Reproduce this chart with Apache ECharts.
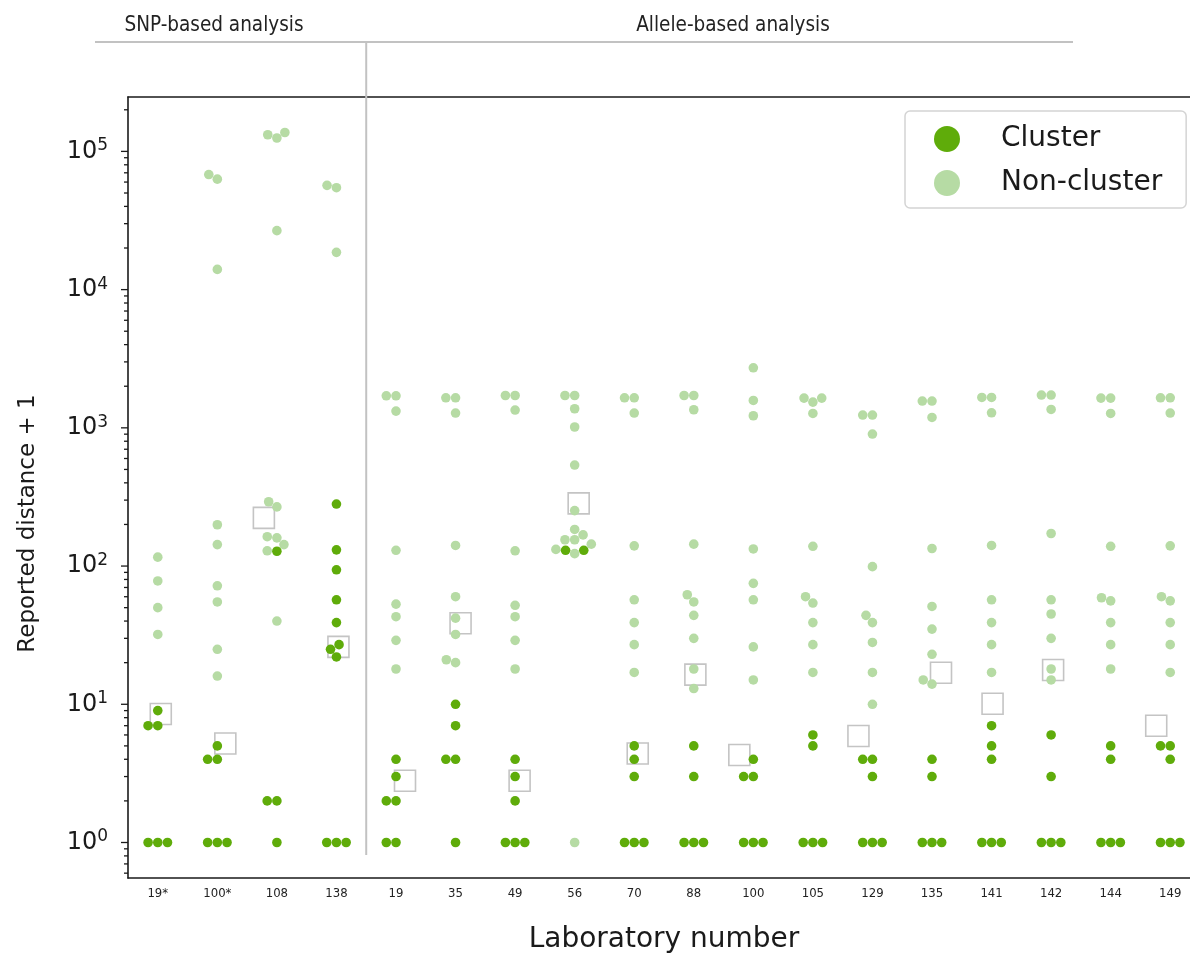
<!DOCTYPE html>
<html>
<head>
<meta charset="utf-8">
<script src="https://cdn.jsdelivr.net/npm/echarts@6/dist/echarts.min.js"></script>
<style>
html,body{margin:0;padding:0;background:#fff;}
#chart{width:1190px;height:954px;}
</style>
</head>
<body>
<div id="chart"></div>
<script>
// ---------------- data ----------------
const labNumbers = ['19*','100*','108','138','19','35','49','56','70','88','100','105','129','135','141','142','144','149'];

// reported distance + 1, per laboratory, for cluster pairs
const clusterDistances = [
  [9,7,7,1,1,1],
  [5,4,4,1,1,1],
  [128,2,2,1],
  [281,131,94,57,39,27,25,22,1,1,1],
  [4,3,2,2,1,1],
  [10,7,4,4,1],
  [4,3,2,1,1,1],
  [130,130],
  [5,4,3,1,1,1],
  [5,3,1,1,1],
  [4,3,3,1,1,1],
  [6,5,1,1,1],
  [4,4,3,1,1,1],
  [4,3,1,1,1],
  [7,5,4,1,1,1],
  [6,3,1,1,1],
  [5,4,1,1,1],
  [5,5,4,1,1,1]
];

// reported distance + 1, per laboratory, for non-cluster pairs
const nonClusterDistances = [
  [116,78,50,32],
  [68000,63000,14000,199,143,72,55,25,16],
  [137000,132000,125000,26700,292,268,163,160,143,129,40],
  [56800,54600,18600],
  [1706,1706,1322,130,53,43,29,18],
  [1650,1650,1279,141,60,42,32,21,20],
  [1714,1714,1345,129,52,43,29,18],
  [1714,1714,1374,1014,538,252,184,168,155,155,144,132,123,1],
  [1650,1650,1279,140,57,39,27,17],
  [1714,1714,1352,144,62,55,44,30,18,13],
  [2720,1578,1223,133,75,57,26,15],
  [1641,1641,1536,1271,139,60,54,39,27,17],
  [1237,1237,902,99,44,39,28,17,10],
  [1562,1562,1189,134,51,35,23,15,14],
  [1659,1659,1285,141,57,39,27,17],
  [1726,1726,1358,172,57,45,30,18,15],
  [1641,1641,1271,139,59,56,39,27,18],
  [1650,1650,1279,140,60,56,39,27,17]
];

// square markers (one per laboratory, null = none)
const thresholdDistances = [8.5,5.2,223,26,2.8,38.6,2.8,284,4.4,16.4,4.3,null,5.9,16.9,10.1,17.7,null,7.0];

const yTickExponents = [0,1,2,3,4,5];
const groupLabels = ['SNP-based analysis','Allele-based analysis'];

// ---------------- layout / style ----------------
const squareJitterPx = [3,8,-13,2,9,5,4.5,4,3.5,1.6,-14,0,-14,9,1,2,0,-14];
const COL_CLUSTER = '#5fac0a';
const COL_NON = '#b6dba4';
const DOT = 9.6;
const GAP = 9.7;
const AX = '#1a1a1a';

// axis extent like matplotlib autoscale (5% margin in log space)
const allVals = clusterDistances.flat().concat(nonClusterDistances.flat());
const lo = Math.log10(Math.min.apply(null, allVals));
const hi = Math.log10(Math.max.apply(null, allVals));
const mrg = 0.05 * (hi - lo);
const yMin = Math.pow(10, lo - mrg);
const yMax = Math.pow(10, hi + mrg);

const majorTicks = yTickExponents.map(e => Math.pow(10, e));
const minorTicks = [];
for (let e = -1; e <= 5; e++) {
  for (let k = 2; k <= 9; k++) {
    const v = k * Math.pow(10, e);
    if (v > yMin && v < yMax) minorTicks.push(v);
  }
}

const chart = echarts.init(document.getElementById('chart'), null, {renderer: 'canvas'});

const baseOption = {
  animation: false,
  backgroundColor: '#fff',
  grid: {left: 128, top: 97, width: 1072, height: 781, containLabel: false, outerBoundsMode: 'none'},
  legend: {
    orient: 'vertical', left: 905, top: 111,
    data: ['Cluster', 'Non-cluster'],
    icon: 'circle', itemWidth: 26, itemHeight: 26, itemGap: 16,
    padding: [14, 24, 11, 29],
    borderColor: '#d4d4d4', borderWidth: 1.5, borderRadius: 5,
    backgroundColor: 'rgba(255,255,255,0.85)',
    selectedMode: false,
    textStyle: {fontSize: 28, color: AX, fontFamily: 'DejaVu Sans', padding: [0, 0, 0, 36]}
  },
  xAxis: [
    {
      type: 'category', data: labNumbers, position: 'bottom', boundaryGap: true,
      axisLine: {lineStyle: {color: AX, width: 1.6}},
      axisTick: {alignWithLabel: true, length: 7, lineStyle: {color: AX, width: 1.4}},
      axisLabel: {interval: 0, fontSize: 13, color: '#222', margin: 9, fontFamily: 'DejaVu Sans Condensed, DejaVu Sans'},
      splitLine: {show: false},
      name: 'Laboratory number', nameLocation: 'middle', nameGap: 48,
      nameTextStyle: {fontSize: 28, color: AX, fontFamily: 'DejaVu Sans'}
    },
    {
      type: 'category', data: labNumbers, position: 'top', boundaryGap: true,
      axisLine: {lineStyle: {color: AX, width: 1.6}},
      axisTick: {alignWithLabel: true, length: 6, lineStyle: {color: AX, width: 1.4}},
      axisLabel: {show: false},
      splitLine: {show: false}
    }
  ],
  yAxis: {
    type: 'log', logBase: 10, min: yMin, max: yMax,
    axisLine: {show: true, lineStyle: {color: AX, width: 1.6}},
    axisTick: {show: false},
    minorTick: {show: false},
    splitLine: {show: false},
    axisLabel: {
      margin: 20,
      formatter: function (v) {
        const l = Math.log10(v);
        const r = Math.round(l);
        if (Math.abs(l - r) > 1e-6) return '';
        return '{b|10}{s|' + r + '}';
      },
      rich: {
        b: {fontSize: 24, color: AX, fontFamily: 'DejaVu Sans', lineHeight: 28},
        s: {fontSize: 17, color: AX, fontFamily: 'DejaVu Sans', lineHeight: 18, verticalAlign: 'top'}
      }
    },
    name: 'Reported distance + 1', nameLocation: 'middle', nameGap: 88, nameRotate: 90,
    nameTextStyle: {fontSize: 23, color: AX, fontFamily: 'DejaVu Sans', padding: [0, 72, 0, 0]}
  },
  series: [
    {name: 'Threshold', type: 'scatter', symbol: 'rect', symbolSize: 21, z: 2, silent: true,
     itemStyle: {color: '#ffffff', borderColor: '#c4c4c4', borderWidth: 1.6, opacity: 1}, data: []},
    {name: 'Non-cluster', type: 'scatter', symbol: 'circle', symbolSize: DOT, z: 3, silent: true,
     itemStyle: {color: COL_NON, opacity: 1}, data: []},
    {name: 'Cluster', type: 'scatter', symbol: 'circle', symbolSize: DOT, z: 4, silent: true,
     itemStyle: {color: COL_CLUSTER, opacity: 1}, data: []},
    {name: 'ticks', type: 'custom', coordinateSystem: 'cartesian2d', silent: true, clip: false, z: 10,
     data: majorTicks.map(v => [0, v, 7]).concat(minorTicks.map(v => [0, v, 4])),
     renderItem: function (params, api) {
       const y = api.coord([0, api.value(1)])[1];
       const x0 = params.coordSys.x;
       const len = api.value(2);
       return {type: 'line', shape: {x1: x0 - len, y1: y, x2: x0, y2: y},
               style: {stroke: AX, lineWidth: 1.3}};
     }}
  ]
};
chart.setOption(baseOption);

// ---------------- swarm layout (pixel space, like seaborn) ----------------
function swarm(ys, d) {
  const idx = ys.map((y, i) => i).sort((a, b) => (ys[b] - ys[a]) || (a - b));
  const placed = [];
  const off = new Array(ys.length).fill(0);
  idx.forEach(i => {
    const y = ys[i];
    const near = placed.filter(p => Math.abs(p.y - y) < d);
    const cands = [0];
    near.forEach(p => {
      const dx = Math.sqrt(d * d - (p.y - y) * (p.y - y));
      cands.push(p.x - dx, p.x + dx);
    });
    cands.sort((a, b) => (Math.round(Math.abs(a) * 1000) - Math.round(Math.abs(b) * 1000)) || (a - b));
    let chosen = cands.find(c => near.every(p => (p.x - c) * (p.x - c) + (p.y - y) * (p.y - y) >= d * d - 1e-3));
    if (chosen === undefined) chosen = 0;
    placed.push({x: chosen, y: y});
    off[i] = chosen;
  });
  return off;
}

const clusterData = [];
const nonData = [];
labNumbers.forEach((lab, i) => {
  const pts = [];
  clusterDistances[i].forEach(v => pts.push({v: v, c: true}));
  nonClusterDistances[i].forEach(v => pts.push({v: v, c: false}));
  const ys = pts.map(p => chart.convertToPixel({yAxisIndex: 0}, p.v));
  const off = swarm(ys, GAP);
  pts.forEach((p, k) => {
    const item = {value: [i, p.v], symbolOffset: [off[k], 0]};
    (p.c ? clusterData : nonData).push(item);
  });
});

const squareData = [];
thresholdDistances.forEach((v, i) => {
  if (v === null) return;
  squareData.push({value: [i, v], symbolOffset: [squareJitterPx[i], 0]});
});

// separator between SNP-based and allele-based labs
const xa = chart.convertToPixel({xAxisIndex: 0}, 3);
const xb = chart.convertToPixel({xAxisIndex: 0}, 4);
const sepX = (xa + xb) / 2;

chart.setOption({
  series: [
    {name: 'Threshold', data: squareData},
    {name: 'Non-cluster', data: nonData},
    {name: 'Cluster', data: clusterData}
  ],
  graphic: [
    {type: 'line', silent: true, z: 1, shape: {x1: 95, y1: 42, x2: 1073, y2: 42},
     style: {stroke: '#c2c2c2', lineWidth: 2.2}},
    {type: 'line', silent: true, z: 1, shape: {x1: sepX, y1: 42, x2: sepX, y2: 855},
     style: {stroke: '#c2c2c2', lineWidth: 2}},
    {type: 'text', silent: true, x: 214, y: 26,
     style: {text: groupLabels[0], fontSize: 20.5, fill: '#222', align: 'center', verticalAlign: 'middle',
             fontFamily: 'DejaVu Sans Condensed, DejaVu Sans'}},
    {type: 'text', silent: true, x: 733, y: 26,
     style: {text: groupLabels[1], fontSize: 20.5, fill: '#222', align: 'center', verticalAlign: 'middle',
             fontFamily: 'DejaVu Sans Condensed, DejaVu Sans'}}
  ]
});
</script>
</body>
</html>
